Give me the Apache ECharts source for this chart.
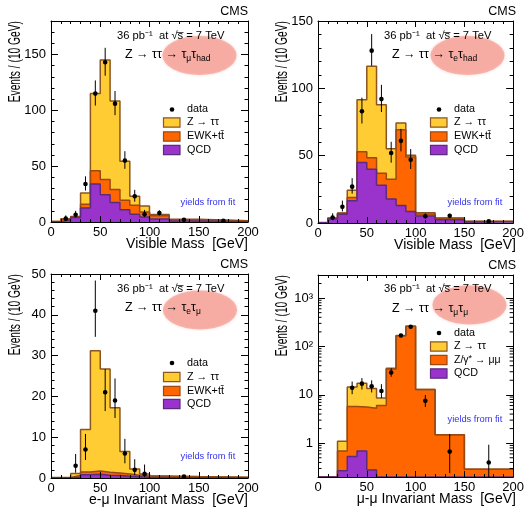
<!DOCTYPE html>
<html>
<head>
<meta charset="utf-8">
<script src="https://cdn.jsdelivr.net/npm/echarts@6/dist/echarts.min.js"></script>
<style>
html, body { margin: 0; padding: 0; background: #fff; }
#chart { width: 527px; height: 508px; }
</style>
</head>
<body>
<div id="chart"></div>
<script>
// Bin edges shared by all four mass distributions (GeV)
const massBinEdges = [0, 10, 20, 30, 40, 50, 60, 70, 80, 90, 100, 120, 150, 200];

// mu + tau_had channel, events / (10 GeV)
const mtauQCD = [0.3, 2.0, 4.0, 12.5, 34.0, 24.5, 17.5, 11.0, 7.0, 4.5, 2.7, 0.8, 0.3];
const mtauEWK = [0.1, 0.5, 0.6, 3.5, 12.0, 13.5, 11.5, 8.5, 8.0, 4.5, 3.0, 1.2, 0.7];
const mtauZtt = [0.1, 0.4, 0.4, 10.0, 69.0, 107.0, 79.3, 35.0, 8.0, 5.4, 1.0, 0.5, 0.2];
const mtauDataMass = [15, 25, 35, 45, 55, 65, 75, 85, 95, 110, 135, 175];
const mtauData = [3, 6.5, 34, 115, 143, 106, 55, 23, 7, 8, 2, 1];
const mtauErrLo = [1.6, 2.5, 5.8, 10.7, 12.0, 10.3, 7.4, 4.8, 2.6, 2.0, 0.8, 0.45];
const mtauErrHi = [2.9, 3.5, 6.9, 11.8, 13.0, 11.3, 8.4, 5.8, 3.8, 2.5, 1.1, 0.6];

// e + tau_had channel
const etauQCD = [0.2, 3.0, 6.5, 16.5, 45.0, 40.0, 28.0, 17.8, 13.0, 8.5, 5.2, 2.5, 0.8];
const etauEWK = [0.05, 0.5, 0.7, 2.5, 8.0, 8.5, 9.0, 14.6, 56.3, 40.5, 1.5, 1.0, 0.4];
const etauZtt = [0.05, 0.3, 0.3, 5.3, 38.6, 67.9, 50.9, 22.8, 5.0, 1.3, 1.0, 0.3, 0.1];
const etauDataMass = [15, 25, 35, 45, 55, 65, 75, 85, 95, 110, 135, 175];
const etauData = [4, 12, 27, 83, 128, 92, 52, 61, 47, 5, 5.3, 1.2];
const etauErrLo = [1.9, 3.4, 5.2, 9.1, 11.3, 9.6, 7.2, 7.8, 6.9, 1.6, 1.3, 0.5];
const etauErrHi = [3.2, 4.6, 6.3, 10.1, 12.3, 10.6, 8.3, 8.9, 7.9, 2.1, 1.6, 0.7];

// e + mu channel
const emuQCD = [0.05, 0.05, 0.2, 0.8, 0.9, 0.7, 0.6, 0.4, 0.3, 0.2, 0.1, 0.05, 0.05];
const emuEWK = [0.03, 0.1, 0.4, 0.7, 0.8, 0.7, 0.6, 0.6, 0.4, 0.3, 0.25, 0.2, 0.1];
const emuZtt = [0.02, 0.05, 0.5, 10.4, 29.5, 25.3, 16.0, 5.5, 1.5, 0.5, 0.15, 0.1, 0.05];
const emuDataMass = [25, 35, 45, 55, 65, 75, 85, 95, 135];
const emuData = [3, 7, 41, 21, 19, 6, 2, 1, 0.33];
const emuErrLo = [1.7, 2.6, 6.4, 4.6, 4.3, 2.4, 1.3, 0.8, 0];
const emuErrHi = [2.9, 3.8, 7.4, 5.7, 5.4, 3.6, 2.6, 2.3, 0];

// mu + mu channel (log scale)
const mumuQCD = [0, 0, 0.27, 0.53, 0.69, 0.28, 0, 0, 0, 0, 0, 0, 0];
const mumuZmm = [0, 0, 0.42, 5.2, 4.9, 5.0, 6.0, 34.0, 167, 262, 12.9, 1.5, 0.29];
const mumuZtt = [0, 0, 0.41, 8.7, 11.8, 8.2, 2.6, 1.5, 1.0, 0.5, 0, 0, 0];
const mumuDataMass = [35, 45, 55, 65, 75, 85, 95, 110, 135, 175];
const mumuData = [14, 17, 15, 12, 29, 169, 255, 7.5, 0.67, 0.4];
const mumuErrLo = [3.7, 4.1, 3.8, 3.4, 5.4, 13, 16, 1.9, 0.43, 0.26];
const mumuErrHi = [4.8, 5.2, 4.9, 4.6, 6.4, 14, 17, 2.4, 0.88, 0.53];

// Axis ticks
const xTickValues = [0, 50, 100, 150, 200];
const logMinorTickValues = [0.3, 0.4, 0.5, 0.6, 0.7, 0.8, 0.9,
  2, 3, 4, 5, 6, 7, 8, 9, 20, 30, 40, 50, 60, 70, 80, 90,
  200, 300, 400, 500, 600, 700, 800, 900, 2000];
const logTickLabels = { 0: '1', 1: '10', 2: '10²', 3: '10³' };

const FONT = '"Liberation Sans", Helvetica, Arial, sans-serif';
const COL = {
  ztt: '#FFCC33', zttLine: '#8A5520',
  ewk: '#FF6600', ewkLine: '#9A4A10',
  qcd: '#9933CC', qcdLine: '#5E2A7E',
  blue: '#3333EE', ellipse: 'rgba(244,150,140,0.65)'
};
const LOG_MIN = 0.2, LOG_MAX = 3000;

function addUp(...arrays) {
  return arrays[0].map((_, i) => arrays.reduce((s, a) => s + a[i], 0));
}

// step outline of a histogram: one point per bin low edge plus the last high edge
function stepLine(values, floor) {
  const pts = values.map((v, i) => [massBinEdges[i], Math.max(v, floor)]);
  pts.push([massBinEdges[massBinEdges.length - 1], Math.max(values[values.length - 1], floor)]);
  return pts;
}

const panels = [
  {
    grid: { left: 51, top: 21, width: 197, height: 201 },
    yMax: 180, yMajor: 50, yMinor: 10,
    layers: [addUp(mtauQCD, mtauEWK, mtauZtt), addUp(mtauQCD, mtauEWK), mtauQCD],
    dataMass: mtauDataMass, data: mtauData, errLo: mtauErrLo, errHi: mtauErrHi,
    xTitle: 'Visible Mass  [GeV]',
    decay: '{n|Z → ττ → τ}{s|μ}{n|τ}{s|had}',
    legend: ['Z → ττ', 'EWK+tt̄', 'QCD'],
    ellipse: [148.5, 34.5], legendRows: [88.5, 101.5, 115.5, 129], yieldsY: 181.5
  },
  {
    grid: { left: 318, top: 21, width: 198, height: 202 },
    yMax: 150, yMajor: 50, yMinor: 10,
    layers: [addUp(etauQCD, etauEWK, etauZtt), addUp(etauQCD, etauEWK), etauQCD],
    dataMass: etauDataMass, data: etauData, errLo: etauErrLo, errHi: etauErrHi,
    xTitle: 'Visible Mass  [GeV]',
    decay: '{n|Z → ττ → τ}{s|e}{n|τ}{s|had}',
    legend: ['Z → ττ', 'EWK+tt̄', 'QCD'],
    ellipse: [149.5, 34.5], legendRows: [88.5, 101.5, 115.5, 129], yieldsY: 181.5
  },
  {
    grid: { left: 51, top: 274, width: 197, height: 204 },
    yMax: 50, yMajor: 10, yMinor: 2,
    layers: [addUp(emuQCD, emuEWK, emuZtt), addUp(emuQCD, emuEWK), emuQCD],
    dataMass: emuDataMass, data: emuData, errLo: emuErrLo, errHi: emuErrHi,
    xTitle: 'e-μ Invariant Mass  [GeV]',
    decay: '{n|Z → ττ → τ}{s|e}{n|τ}{s|μ}',
    legend: ['Z → ττ', 'EWK+tt̄', 'QCD'],
    ellipse: [149, 36], legendRows: [89, 103, 117, 130], yieldsY: 182.5
  },
  {
    grid: { left: 318, top: 275, width: 198, height: 202 },
    log: true,
    layers: [addUp(mumuQCD, mumuZmm, mumuZtt), addUp(mumuQCD, mumuZmm), mumuQCD],
    dataMass: mumuDataMass, data: mumuData, errLo: mumuErrLo, errHi: mumuErrHi,
    xTitle: 'μ-μ Invariant Mass  [GeV]',
    decay: '{n|Z → ττ → τ}{s|μ}{n|τ}{s|μ}',
    legend: ['Z → ττ', '{n|Z/γ}{p|*}{n| → μμ}', 'QCD'],
    ellipse: [151.5, 30], legendRows: [58, 71.5, 85, 98.5], yieldsY: 144
  }
];

const grids = [], xAxes = [], yAxes = [], series = [], graphics = [];

function xAxis(gi, position, labels) {
  return {
    gridIndex: gi, type: 'value', position, min: 0, max: 200, interval: 50, z: 10,
    axisLine: { show: true, onZero: false, lineStyle: { color: '#000', width: 1 } },
    axisTick: { show: true, inside: true, length: 6, lineStyle: { color: '#000', width: 1 } },
    minorTick: { show: true, splitNumber: 5, length: 3, lineStyle: { color: '#000', width: 1 } },
    splitLine: { show: false },
    axisLabel: labels
      ? { show: true, margin: 4, fontSize: 13, fontFamily: FONT, color: '#000',
          formatter: v => (xTickValues.includes(v) ? String(v) : '') }
      : { show: false }
  };
}

function linYAxis(gi, position, max, interval, tickLen, labels, lineShown) {
  return {
    gridIndex: gi, type: 'value', position, min: 0, max, interval, z: 10,
    axisLine: { show: lineShown, onZero: false, lineStyle: { color: '#000', width: 1 } },
    axisTick: { show: true, inside: true, length: tickLen, lineStyle: { color: '#000', width: 1 } },
    splitLine: { show: false },
    axisLabel: labels
      ? { show: true, margin: 5, fontSize: 13, fontFamily: FONT, color: '#000',
          formatter: v => (v % labels === 0 ? String(v) : '') }
      : { show: false }
  };
}

function logYAxis(gi, position, labels) {
  return {
    gridIndex: gi, type: 'log', logBase: 10, position, min: LOG_MIN, max: LOG_MAX, z: 10,
    axisLine: { show: true, onZero: false, lineStyle: { color: '#000', width: 1 } },
    axisTick: { show: true, inside: true, length: 7, lineStyle: { color: '#000', width: 1 } },
    splitLine: { show: false },
    axisLabel: labels
      ? { show: true, margin: 5, fontSize: 13, fontFamily: FONT, color: '#000',
          showMinLabel: false, showMaxLabel: false,
          formatter: v => {
            const e = Math.round(Math.log10(v));
            return Math.abs(v - Math.pow(10, e)) < 1e-6 * v && logTickLabels[e] !== undefined ? logTickLabels[e] : '';
          } }
      : { show: false }
  };
}

function histSeries(xi, yi, tops, fill, stroke, floor) {
  return {
    type: 'line', xAxisIndex: xi, yAxisIndex: yi, data: stepLine(tops, floor),
    step: 'end', symbol: 'none', showSymbol: false, silent: true, clip: true, z: 2,
    lineStyle: { color: stroke, width: 1.5 },
    areaStyle: { color: fill, opacity: 1, origin: 'start' }
  };
}

function dataSeries(xi, yi, p, floor) {
  return {
    type: 'custom', xAxisIndex: xi, yAxisIndex: yi, clip: true, silent: true, z: 6,
    encode: { x: 0, y: 1 },
    data: p.dataMass.map((m, i) => [m, p.data[i], Math.max(p.data[i] - p.errLo[i], floor), p.data[i] + p.errHi[i]]),
    renderItem(params, api) {
      const c = api.coord([api.value(0), api.value(1)]);
      const lo = api.coord([api.value(0), api.value(2)]);
      const hi = api.coord([api.value(0), api.value(3)]);
      return {
        type: 'group',
        children: [
          { type: 'line', shape: { x1: c[0], y1: lo[1], x2: c[0], y2: hi[1] },
            style: { stroke: '#000', lineWidth: 1 } },
          { type: 'circle', shape: { cx: c[0], cy: c[1], r: 2.3 }, style: { fill: '#000' } }
        ]
      };
    }
  };
}

function logMinorTicks(xi, yi) {
  return {
    type: 'custom', xAxisIndex: xi, yAxisIndex: yi, silent: true, z: 10,
    encode: { x: 0, y: 1 },
    data: logMinorTickValues.map(v => [0, v]),
    renderItem(params, api) {
      const cs = params.coordSys;
      const y = api.coord([0, api.value(1)])[1];
      return {
        type: 'group',
        children: [
          { type: 'line', shape: { x1: cs.x, y1: y, x2: cs.x + 3.5, y2: y }, style: { stroke: '#000', lineWidth: 1 } },
          { type: 'line', shape: { x1: cs.x + cs.width - 3.5, y1: y, x2: cs.x + cs.width, y2: y }, style: { stroke: '#000', lineWidth: 1 } }
        ]
      };
    }
  };
}

function txt(x, y, text, size, opts) {
  const o = opts || {};
  return {
    type: 'text', x, y, z: 20, silent: true,
    rotation: o.rotation || 0, scaleX: o.scaleX || 1,
    style: {
      text, fill: o.fill || '#000', font: size + 'px ' + FONT,
      align: o.align || 'left', verticalAlign: o.valign || 'middle',
      textAlign: o.align || 'left', textVerticalAlign: o.valign || 'middle',
      rich: o.rich
    }
  };
}

// subscripts: both token kinds hang from the line top, the small one pushed down by padding
const decayRich = {
  n: { fontSize: 12.5, fontFamily: FONT, verticalAlign: 'top', fill: '#000', color: '#000' },
  s: { fontSize: 8.5, fontFamily: FONT, verticalAlign: 'top', padding: [6.5, 0, 0, 0], fill: '#000', color: '#000' }
};
const legendRich = {
  n: { fontSize: 10.5, fontFamily: FONT, verticalAlign: 'top', fill: '#000', color: '#000' },
  p: { fontSize: 9, fontFamily: FONT, verticalAlign: 'top', fill: '#000', color: '#000' }
};

panels.forEach((p, gi) => {
  const g = p.grid;
  grids.push({ left: g.left, top: g.top, width: g.width, height: g.height, containLabel: false });
  const L = g.left, T = g.top, R = g.left + g.width, B = g.top + g.height;

  const xi = xAxes.length;
  xAxes.push(xAxis(gi, 'bottom', true), xAxis(gi, 'top', false));
  const yi = yAxes.length;
  if (p.log) {
    yAxes.push(logYAxis(gi, 'left', true), logYAxis(gi, 'right', false));
  } else {
    yAxes.push(
      linYAxis(gi, 'left', p.yMax, p.yMajor, 7, p.yMajor, true),
      linYAxis(gi, 'right', p.yMax, p.yMajor, 7, 0, true),
      linYAxis(gi, 'left', p.yMax, p.yMinor, 3.5, 0, false),
      linYAxis(gi, 'right', p.yMax, p.yMinor, 3.5, 0, false)
    );
  }

  const floor = p.log ? LOG_MIN : 0;
  series.push(histSeries(xi, yi, p.layers[0], COL.ztt, COL.zttLine, floor));
  series.push(histSeries(xi, yi, p.layers[1], COL.ewk, COL.ewkLine, floor));
  series.push(histSeries(xi, yi, p.layers[2], COL.qcd, COL.qcdLine, floor));
  series.push(dataSeries(xi, yi, p, p.log ? 0.1 : 0));
  if (p.log) series.push(logMinorTicks(xi, yi));

  // annotation ellipse and texts
  graphics.push({
    type: 'circle', x: L + p.ellipse[0], y: T + p.ellipse[1], scaleX: 1.9, z: 1, silent: true,
    shape: { cx: 0, cy: 0, r: 19.5 },
    style: { fill: COL.ellipse, shadowBlur: 3, shadowColor: COL.ellipse }
  });
  graphics.push(txt(R, T - 9, 'CMS', 12.5, { align: 'right' }));
  graphics.push(txt(L + 66, T + (p.log ? 13.5 : 14.5), '36 pb⁻¹  at √s̅ = 7 TeV', 11.2));
  graphics.push(txt(L + 74, T + 34 - 7.2, p.decay, 12.5, { valign: 'top', rich: decayRich }));

  // legend
  const bx = L + 112.5, tx = L + 136, rows = p.legendRows;
  graphics.push({ type: 'circle', z: 20, silent: true, shape: { cx: bx + 8.5, cy: T + rows[0], r: 2.3 }, style: { fill: '#000' } });
  graphics.push(txt(tx, T + rows[0], 'data', 10.8));
  const fills = [[COL.ztt, COL.zttLine], [COL.ewk, COL.ewkLine], [COL.qcd, COL.qcdLine]];
  fills.forEach((f, k) => {
    graphics.push({ type: 'rect', z: 20, silent: true,
      shape: { x: bx, y: T + rows[k + 1] - 4.7, width: 16.5, height: 9.4 },
      style: { fill: f[0], stroke: f[1], lineWidth: 1.2 } });
    graphics.push(txt(tx, T + rows[k + 1], p.legend[k], 10.8, { rich: legendRich }));
  });
  graphics.push(txt(L + 129.5, T + p.yieldsY, 'yields from fit', 9.3, { fill: COL.blue }));

  // axis titles
  graphics.push(txt(R, B + 22, p.xTitle, 14, { align: 'right' }));
  graphics.push(txt(L - 35.5, T, 'Events / (10 GeV)', 16.5, { align: 'right', rotation: Math.PI / 2, scaleX: 0.62 }));
});

const chart = echarts.init(document.getElementById('chart'), null, { renderer: 'canvas', devicePixelRatio: 1 });
chart.setOption({
  animation: false,
  backgroundColor: '#fff',
  textStyle: { fontFamily: FONT },
  grid: grids,
  xAxis: xAxes,
  yAxis: yAxes,
  series,
  graphic: { elements: graphics }
});
</script>
</body>
</html>
